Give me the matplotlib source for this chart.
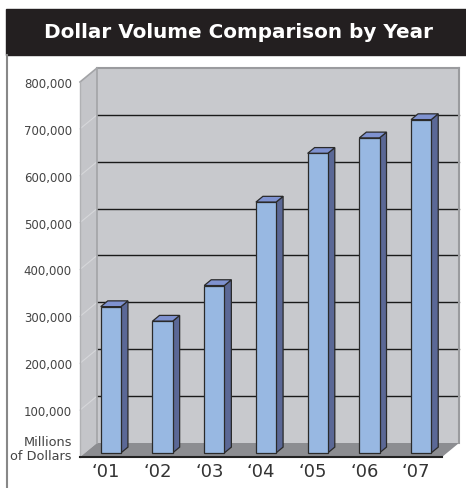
import matplotlib
matplotlib.use("Agg")
import matplotlib.pyplot as plt
from matplotlib.patches import Polygon, Rectangle
from matplotlib.lines import Line2D
from matplotlib.transforms import IdentityTransform

years = ["\u201801", "\u201802", "\u201803", "\u201804", "\u201805", "\u201806", "\u201807"]
volume = [312000, 281000, 357000, 535000, 639000, 672000, 711000]
y_ticks = [100000, 200000, 300000, 400000, 500000, 600000, 700000, 800000]

W, H = 466, 489
fig = plt.figure(figsize=(W / 100, H / 100), dpi=100)
fig.patch.set_facecolor("white")

# front plane of the fake 3D box
ax = fig.add_axes([80 / W, 31 / H, 362 / W, 375 / H])
ax.set_xlim(-0.5, 6.5)
ax.set_ylim(0, 800000)
ax.patch.set_visible(False)
for s in ax.spines.values():
    s.set_visible(False)

DEPTH = (17, 14)  # pixel shift from front edge to back wall


def proj(x, y, z):
    px, py = ax.transData.transform((x, y))
    return (px + z * DEPTH[0], py + z * DEPTH[1])


def poly(pts, **kw):
    p = Polygon(pts, closed=True, transform=IdentityTransform(), clip_on=False, **kw)
    ax.add_patch(p)


def line(p0, p1, **kw):
    ax.add_line(Line2D([p0[0], p1[0]], [p0[1], p1[1]], transform=IdentityTransform(),
                       clip_on=False, **kw))


x0, x1 = -0.5, 6.5
top = y_ticks[-1]

# back wall
poly([proj(x0, 0, 1), proj(x1, 0, 1), proj(x1, top, 1), proj(x0, top, 1)],
     facecolor="#c8c9cd", edgecolor="none", zorder=1)
# left side wall
poly([proj(x0, 0, 0), proj(x0, 0, 1), proj(x0, top, 1), proj(x0, top, 0)],
     facecolor="#c4c5c9", edgecolor="none", zorder=1)
# floor
poly([proj(x0, 0, 0), proj(x1, 0, 0), proj(x1, 0, 1), proj(x0, 0, 1)],
     facecolor="#8c8d91", edgecolor="none", zorder=2)

# gridlines
for v in y_ticks[:-1]:
    line(proj(x0, v, 1), proj(x1, v, 1), color="#1a1a1a", lw=1.0, zorder=2)
    line(proj(x0, v, 0), proj(x0, v, 1), color="#d6d7da", lw=0.8, zorder=2)

# box edges
line(proj(x0, top, 1), proj(x1, top, 1), color="#9a9b9e", lw=1.5, zorder=2)
line(proj(x1, top, 1), proj(x1, 0, 1), color="#9a9b9e", lw=1.5, zorder=2)
line(proj(x0, 0, 1), proj(x0, top, 1), color="#a3a4a7", lw=1.2, zorder=2)
line(proj(x0, top, 0), proj(x0, top, 1), color="#a3a4a7", lw=1.2, zorder=2)
line(proj(x0, 0, 0), proj(x0, top, 0), color="#b0b1b4", lw=1.0, zorder=2)
line(proj(x0, 0, 0), proj(x1, 0, 0), color="#222222", lw=1.5, zorder=3)

# bars
zf, zb = 5 / 17, 12 / 17
hw = 0.195
for i, v in enumerate(volume):
    a, b = i - hw, i + hw
    poly([proj(b, 0, zf), proj(b, 0, zb), proj(b, v, zb), proj(b, v, zf)],
         facecolor="#5b6896", edgecolor="#2a2a2a", lw=0.9, zorder=4)
    poly([proj(a, v, zf), proj(b, v, zf), proj(b, v, zb), proj(a, v, zb)],
         facecolor="#7f92d0", edgecolor="#2a2a2a", lw=0.9, zorder=4)
    poly([proj(a, 0, zf), proj(b, 0, zf), proj(b, v, zf), proj(a, v, zf)],
         facecolor="#98b8e2", edgecolor="#2a2a2a", lw=0.9, zorder=5)

# ticks
ax.set_yticks(y_ticks, labels=[f"{v:,}" for v in y_ticks])
ax.set_xticks(range(len(years)), labels=years)
ax.tick_params(axis="y", length=0, pad=5.8, labelsize=8.5, labelcolor="#444444")
ax.tick_params(axis="x", length=0, pad=3.5, labelsize=13, labelcolor="#333333")

ax.annotate("Millions\nof Dollars", xy=(x0, 0), xytext=(-5.8, 6.0),
            textcoords="offset points", ha="right", va="center",
            multialignment="right", fontsize=9.3, color="#444444", linespacing=1.05)

# title bar and frame
fig.add_artist(Rectangle((6 / W, 1 - 56 / H), 1 - 6 / W, 46 / H,
                         transform=fig.transFigure, color="#231f20"))
fig.text(238 / W, 1 - 33 / H, "Dollar Volume Comparison by Year", color="white",
         fontsize=14.4, fontweight="bold", ha="center", va="center")
fig.add_artist(Line2D([7 / W, 7 / W], [0, 1 - 56 / H], transform=fig.transFigure,
                      color="#888888", lw=1.5))

fig.savefig("out.png", dpi=100)
